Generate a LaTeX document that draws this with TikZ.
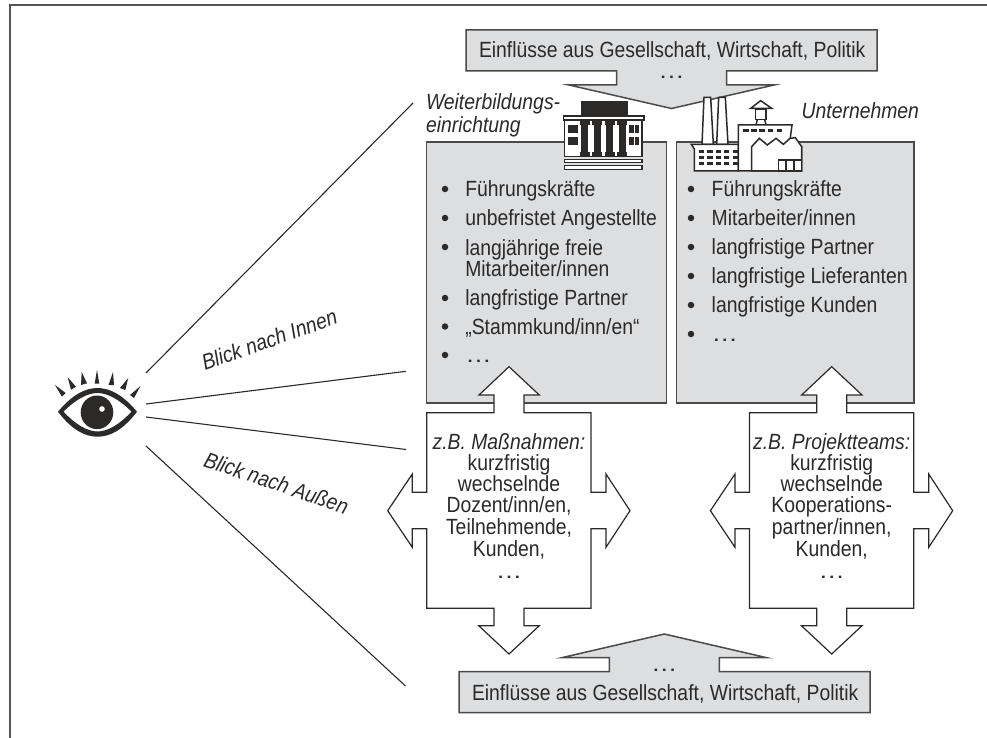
\documentclass[tikz,border=0pt]{standalone}
\usepackage{fontspec}
\setmainfont[FakeStretch=0.88]{Liberation Sans}
\newfontface\dotface[FakeStretch=1.2]{Liberation Sans}
\definecolor{greyfill}{HTML}{DDDEE0}
\definecolor{ink}{HTML}{2B2A29}
\newcommand{\dotrow}{{\dotface …}}
\tikzset{
  x=1pt,y=-1pt,
  txt/.style={inner sep=0pt,outer sep=0pt,anchor=base west,text=ink,font=\fontsize{22}{22}\selectfont},
  ctxt/.style={txt,anchor=base},
  itxt/.style={txt,font=\fontsize{22}{22}\selectfont\itshape},
  citxt/.style={ctxt,font=\fontsize{22}{22}\selectfont\itshape},
  greyshape/.style={draw=ink!85,line width=1.5pt,fill=greyfill,line join=miter},
  crossshape/.style={draw=ink,line width=1.2pt,fill=white,line join=miter},
  sight/.style={draw=ink,line width=1.1pt},
  bul/.style={circle,fill=ink,inner sep=0pt,minimum size=6.5pt},
  icon/.style={draw=ink,line width=1.5pt,fill=white,line join=miter},
  solid ink/.style={fill=ink,draw=none},
}
\newcommand{\crossarrow}[1]{%
  \path[crossshape,shift={(#1,0)}]
    (426.7,412.7) -- (494,412.7) -- (494,395) -- (479,395) -- (509,366.7) -- (539.3,395) -- (524,395) -- (524,412.7)
    -- (591,412.7) -- (591,492.3) -- (606,492.3) -- (606,474) -- (630,510.7) -- (606,547.3) -- (606,528.7) -- (591,528.7)
    -- (591,608.3) -- (524,608.3) -- (524,625.7) -- (539.3,625.7) -- (509,654) -- (478.7,625.7) -- (494,625.7) -- (494,608.3)
    -- (426.7,608.3) -- (426.7,528.7) -- (412.3,528.7) -- (412.3,547.3) -- (387.7,510.7) -- (412.3,474) -- (412.3,492.3) -- (426.7,492.3) -- cycle;}
\begin{document}
\begin{tikzpicture}
\useasboundingbox (0,0) rectangle (987,738);
\fill[white] (0,0) rectangle (987,738);
\draw[draw=ink!80,line width=1.5pt] (10,738) -- (10,5) -- (987,5);

% grey boxes
\path[greyshape] (426.5,142) rectangle (666.5,403);
\path[greyshape] (676.7,142) rectangle (914,403);

% top influence arrow
\path[greyshape] (466,30) -- (877,30) -- (877,71) -- (726.7,71) -- (726.7,85) -- (774,85) -- (671.5,108.5) -- (569,85) -- (616.7,85) -- (616.7,71) -- (466,71) -- cycle;
% bottom influence arrow
\path[greyshape] (459,712.7) -- (870,712.7) -- (870,671.7) -- (719.3,671.7) -- (719.3,657.7) -- (766.7,657.7) -- (664.3,634) -- (561.7,657.7) -- (609.3,657.7) -- (609.3,671.7) -- (459,671.7) -- cycle;

% cross arrows
\crossarrow{0}
\crossarrow{322.7}

% building
\begin{scope}[shift={(550,90)},x=0.33333pt,y=-0.33333pt]
  \path[icon] (44,90) rectangle (276,200);
  \path[solid ink] (93,33) rectangle (233,78);
  \path[icon,line width=1.2pt] (40,78) rectangle (282,90);
  \foreach \c in {104,142,179,217}{
    \path[solid ink] (\c-11,90) rectangle (\c+11,200);
    \path[solid ink] (\c-15,90) rectangle (\c+15,104);
    \path[solid ink] (\c-15,186) rectangle (\c+15,200);
  }
  \foreach \w in {54,70,238,254}{
    \path[solid ink] (\w,105) rectangle (\w+14,128);
    \path[solid ink] (\w,142) rectangle (\w+14,165);
  }
  \path[icon,line width=1.2pt] (43,208) rectangle (276,218);
  \path[icon,line width=1.2pt] (43,227) rectangle (276,238);
\end{scope}

% factory
\begin{scope}[shift={(690,85)},x=0.33333pt,y=-0.33333pt]
  \path[icon] (42,37) -- (62,37) -- (70,178) -- (36,178) -- cycle;
  \path[icon] (86,37) -- (106,37) -- (114,178) -- (80,178) -- cycle;
  \path[icon] (4,178) -- (145,178) -- (145,258) -- (13,258) -- (13,192) -- cycle;
  \foreach \y in {196,214,232}{
    \foreach \x in {27,52,77,102,128}{
      \path[solid ink] (\x,\y) rectangle (\x+16,\y+8);
    }
  }
  \path[icon] (182,70) -- (212,47) -- (245,70) -- cycle;
  \path[icon] (197,72) rectangle (228,103);
  \draw[draw=ink,line width=1.5pt] (202,103) -- (198,120) (224,103) -- (228,120);
  \path[icon] (145,258) -- (145,120) -- (306,120) -- (300,165) -- (335,185) -- (335,258) -- cycle;
  \foreach \x in {160,184,208,233,260}{
    \path[solid ink] (\x,132) rectangle (\x+16,140);
  }
  \path[icon] (185,258) -- (185,185) -- (208,160) -- (232,180) -- (258,160) -- (280,178) -- (300,160) -- (316,158) -- (335,185) -- (335,258) -- cycle;
  \path[icon] (265,225) rectangle (335,258);
  \draw[draw=ink,line width=1.5pt] (288,225) -- (288,258) (312,225) -- (312,258);
\end{scope}

% eye
\begin{scope}
  \path[fill=ink,even odd rule]
    (58,411.7) .. controls (72,395) and (85,388) .. (97.5,388) .. controls (110,388) and (123,395) .. (137,411.7)
    .. controls (123,430) and (110,436.7) .. (97.5,436.7) .. controls (85,436.7) and (72,430) .. (58,411.7) -- cycle
    (63.5,411.7) .. controls (75,424) and (87,431.5) .. (97.5,431.5) .. controls (108,431.5) and (120,424) .. (131.5,411.7)
    .. controls (120,400) and (108,393) .. (97.5,393) .. controls (87,393) and (75,400) .. (63.5,411.7) -- cycle;
  \fill[ink] (97,412.3) ellipse [x radius=16.3,y radius=16.8];
  \fill[white] (102,409) circle [radius=2.8];
  \foreach \tx/\ty/\ax/\ay/\bx/\by in {
     97/370/94.7/383.5/99.3/383.5,
     81.7/372/81/385/87/383.3,
     67.7/377.3/71/389.7/76/386.7,
     55/385/62/396.7/65.7/393,
     113/372/108.5/385/114/385,
     128.3/378/120/388/125.3/390,
     140.5/386/130/395/134/398}{
    \fill[ink] (\tx,\ty) -- (\ax,\ay) -- (\bx,\by) -- cycle;
  }
\end{scope}

% sight lines
\coordinate (s1a) at (146,373); \coordinate (s1b) at (413,103);
\coordinate (s2a) at (146,404); \coordinate (s2b) at (406,371.3);
\coordinate (s3a) at (146,417); \coordinate (s3b) at (406,449.5);
\coordinate (s4a) at (146,446); \coordinate (s4b) at (405.5,686);
\draw[sight] (s1a) -- (s1b);
\draw[sight] (s2a) -- (s2b);
\draw[sight] (s3a) -- (s3b);
\draw[sight] (s4a) -- (s4b);

% labels
\node[itxt,rotate=19.5] (innen) at (205,370.7) {Blick nach Innen};
\node[itxt,rotate=-18.8] (aussen) at (202.7,466) {Blick nach Außen};
\node[itxt] (wb1) at (426,110) {Weiterbildungs-};
\node[itxt] (wb2) at (426,132.7) {einrichtung};
\node[itxt] (unt) at (801.7,119) {Unternehmen};

\node[txt] (top) at (479,58) {Einflüsse aus Gesellschaft, Wirtschaft, Politik};
\node[ctxt] (topd) at (671.5,78.5) {\dotrow};
\node[txt] (bot) at (472,700) {Einflüsse aus Gesellschaft, Wirtschaft, Politik};
\node[ctxt] (botd) at (664.3,671) {\dotrow};

% left list
\foreach \n/\y/\t in {a/196.7/{Führungskräfte},b/225.7/{unbefristet Angestellte},c/255/{langjährige freie},d/276.7/{Mitarbeiter/innen},e/305.7/{langfristige Partner},f/334/{„Stammkund/inn/en“},g/362.7/{\dotrow}}{
  \node[txt] (L\n) at (465.3,\y) {\t};
}
\foreach \n/\y in {a/189,b/218,c/247,e/298,f/326.5,g/355}{
  \node[bul] (Lb\n) at (445,\y) {};
}
% right list
\foreach \n/\y/\t in {a/196.7/{Führungskräfte},b/225.7/{Mitarbeiter/innen},c/254.7/{langfristige Partner},d/283.7/{langfristige Lieferanten},e/312.7/{langfristige Kunden},f/341.7/{\dotrow}}{
  \node[txt] (R\n) at (711.7,\y) {\t};
}
\foreach \n/\y in {a/189,b/218,c/247,d/276,e/305,f/334}{
  \node[bul] (Rb\n) at (691,\y) {};
}

% cross texts
\node[citxt] (c1h) at (509,449) {z.B. Maßnahmen:};
\foreach \n/\y/\t in {a/470/{kurzfristig},b/491.7/{wechselnde},c/512.7/{Dozent/inn/en,},d/534/{Teilnehmende,},e/556/{Kunden,},f/578/{\dotrow}}{
  \node[ctxt] (c1\n) at (509,\y) {\t};
}
\node[citxt] (c2h) at (831.7,449) {z.B. Projektteams:};
\foreach \n/\y/\t in {a/470/{kurzfristig},b/491.7/{wechselnde},c/512.7/{Kooperations-},d/534/{partner/innen,},e/556/{Kunden,},f/578/{\dotrow}}{
  \node[ctxt] (c2\n) at (831.7,\y) {\t};
}
\end{tikzpicture}
\end{document}
